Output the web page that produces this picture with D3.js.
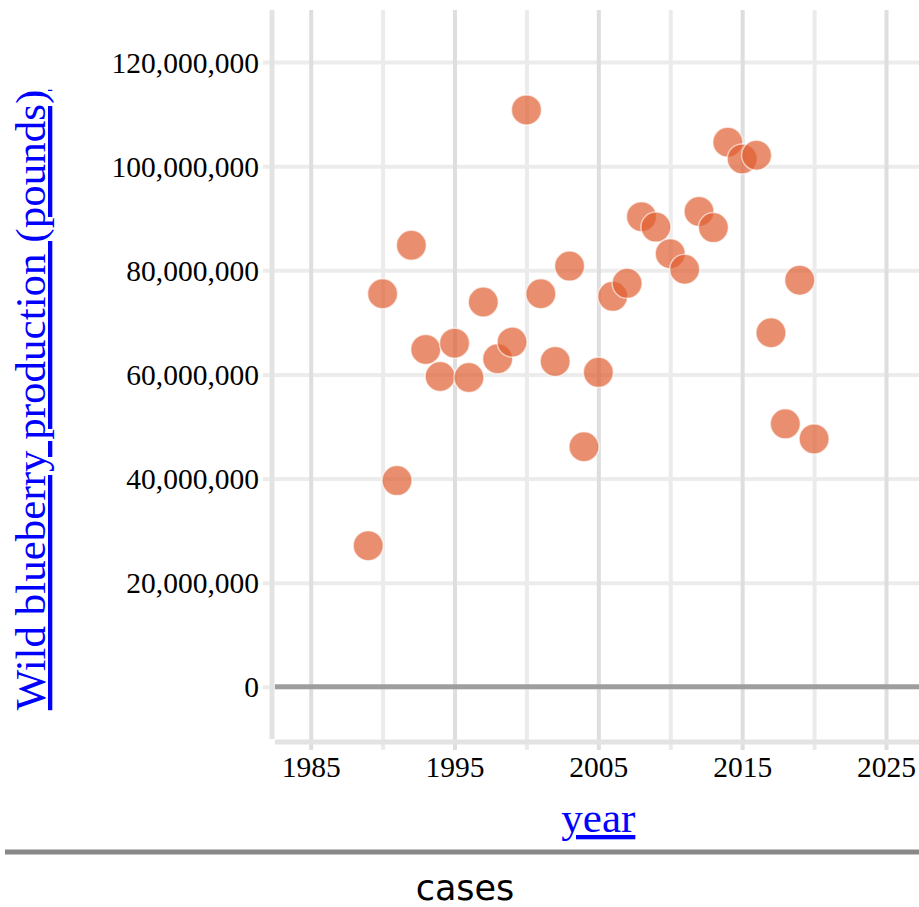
<!DOCTYPE html>
<html>
<head>
<meta charset="utf-8">
<script src="https://cdn.jsdelivr.net/npm/d3@7"></script>
<style>
  html, body { margin: 0; padding: 0; background: #fff; }
  svg { display: block; }
</style>
</head>
<body>
<svg id="chart" width="919" height="907"></svg>
<script>
// ---- data ----
const years = [1989, 1990, 1991, 1992, 1993, 1994, 1995, 1996, 1997, 1998, 1999, 2000,
               2001, 2002, 2003, 2004, 2005, 2006, 2007, 2008, 2009, 2010, 2011, 2012,
               2013, 2014, 2015, 2016, 2017, 2018, 2019, 2020];
const production = [27.1e6, 75.5e6, 39.6e6, 84.8e6, 64.8e6, 59.6e6, 66.0e6, 59.4e6, 73.9e6, 63.0e6, 66.2e6, 110.8e6,
                    75.5e6, 62.5e6, 80.8e6, 46.1e6, 60.4e6, 75.0e6, 77.5e6, 90.3e6, 88.3e6, 83.2e6, 80.2e6, 91.3e6,
                    88.2e6, 104.6e6, 101.4e6, 102.1e6, 68.0e6, 50.5e6, 78.1e6, 47.6e6];
const xTickValues = [1985, 1990, 1995, 2000, 2005, 2010, 2015, 2020, 2025];
const xTickLabels = ["1985", "", "1995", "", "2005", "", "2015", "", "2025"];
const yTickValues = [0, 20e6, 40e6, 60e6, 80e6, 100e6, 120e6];
const yTitle = "Wild blueberry production (pounds)";
const xTitle = "year";
const footer = "cases";

// ---- scales ----
const svg = d3.select("#chart");
const W = 919;
const x = d3.scaleLinear().domain([1985, 2025]).range([310.7, 886]);
const y = d3.scaleLinear().domain([-10e6, 130e6]).range([738.8, 10]);
const plotLeft = 272, plotTop = 10, plotBottom = 742;
const serif = "'Liberation Serif', 'Times New Roman', serif";

// ---- y grid/axis ----
const yAxis = d3.axisLeft(y)
  .tickValues(yTickValues)
  .tickSize(-(W - 263))
  .tickPadding(4)
  .tickFormat(d3.format(","));
const gy = svg.append("g").attr("transform", "translate(263,0)").call(yAxis);
gy.select(".domain").remove();
gy.selectAll(".tick line").attr("stroke", "#ececec").attr("stroke-width", 4);
gy.selectAll(".tick text")
  .attr("fill", "#000")
  .style("font-family", serif)
  .style("font-size", "29.5px")
  .attr("dy", "0.34em");

// ---- x grid/axis ----
const xAxis = d3.axisBottom(x)
  .tickValues(xTickValues)
  .tickSize(-(750 - plotTop))
  .tickPadding(0)
  .tickFormat((d, i) => xTickLabels[i]);
const gx = svg.append("g").attr("transform", "translate(0,750)").call(xAxis);
gx.select(".domain").remove();
gx.selectAll(".tick line")
  .attr("stroke", (d, i) => xTickLabels[i] ? "#dedede" : "#ebebeb")
  .attr("stroke-width", 4);
gx.selectAll(".tick text")
  .attr("fill", "#000")
  .attr("y", 27)
  .attr("dy", 0)
  .style("font-family", serif)
  .style("font-size", "29.5px");

// ---- domain lines ----
svg.append("line")
  .attr("x1", plotLeft).attr("x2", plotLeft)
  .attr("y1", plotTop).attr("y2", 739)
  .attr("stroke", "#e3e3e3").attr("stroke-width", 5);
svg.append("line")
  .attr("x1", 275).attr("x2", W)
  .attr("y1", plotBottom).attr("y2", plotBottom)
  .attr("stroke", "#e3e3e3").attr("stroke-width", 5);

// ---- zero line ----
svg.append("line")
  .attr("x1", 275).attr("x2", W)
  .attr("y1", y(0)).attr("y2", y(0))
  .attr("stroke", "#9e9e9e").attr("stroke-width", 5);

// ---- points ----
svg.append("g").selectAll("circle")
  .data(years.map((yr, i) => ({ yr, v: production[i] })))
  .join("circle")
  .attr("cx", d => x(d.yr))
  .attr("cy", d => y(d.v))
  .attr("r", 15)
  .attr("fill", "rgb(224,94,48)")
  .attr("fill-opacity", 0.7)
  .attr("stroke", "#fff")
  .attr("stroke-width", 1.5)
  .attr("stroke-opacity", 0.6);

// ---- titles ----
svg.append("text")
  .attr("transform", "translate(45,400) rotate(-90)")
  .attr("text-anchor", "middle")
  .attr("fill", "blue")
  .attr("text-decoration", "underline")
  .style("font-family", serif)
  .style("font-size", "43px")
  .text(yTitle);

svg.append("text")
  .attr("x", x(2005))
  .attr("y", 832)
  .attr("text-anchor", "middle")
  .attr("fill", "blue")
  .attr("text-decoration", "underline")
  .style("font-family", serif)
  .style("font-size", "43px")
  .text(xTitle);

// ---- rule + footer ----
svg.append("line")
  .attr("x1", 5).attr("x2", W)
  .attr("y1", 852).attr("y2", 852)
  .attr("stroke", "#888").attr("stroke-width", 5);

svg.append("text")
  .attr("x", 465)
  .attr("y", 900)
  .attr("text-anchor", "middle")
  .attr("fill", "#000")
  .style("font-family", "'DejaVu Sans', sans-serif")
  .style("font-size", "35px")
  .text(footer);
</script>
</body>
</html>
